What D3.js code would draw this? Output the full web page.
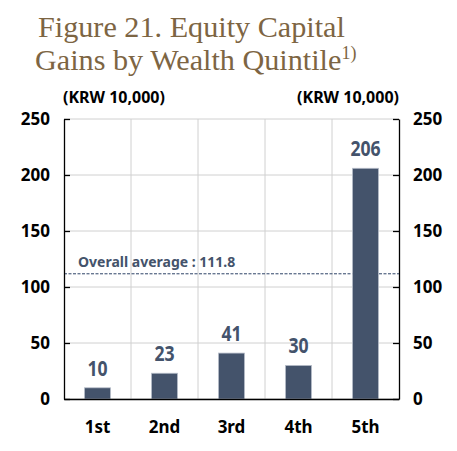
<!DOCTYPE html>
<html>
<head>
<meta charset="utf-8">
<script src="https://cdn.jsdelivr.net/npm/d3@7"></script>
<style>
  body { margin: 0; background: #fff; }
  text { font-family: "Noto Sans", sans-serif; }
</style>
</head>
<body>
<div id="chart"></div>
<script>
var quintiles = ['1st', '2nd', '3rd', '4th', '5th'],
    gains = [10, 23, 41, 30, 206],
    yTicks = [0, 50, 100, 150, 200, 250],
    average = 111.8;

var width = 457, height = 451;
var margin = {top: 119, right: 58, bottom: 52, left: 64};

var svg = d3.select('#chart')
    .append('svg')
        .attr('width', width)
        .attr('height', height);

// title
var title = svg.append('text')
    .attr('fill', '#7d6543')
    .style('font-family', '"Liberation Serif", "Times New Roman", serif')
    .style('font-size', '30.2px');
title.append('tspan').attr('x', 38).attr('y', 37).text('Figure 21. Equity Capital');
title.append('tspan').attr('x', 35).attr('y', 70).text('Gains by Wealth Quintile');
title.append('tspan').attr('dy', -11).style('font-size', '18px').text('1)');

var x = d3.scaleBand()
    .domain(quintiles)
    .range([margin.left, width - margin.right])
    .paddingInner(0.61)
    .paddingOuter(0.305);

var y = d3.scaleLinear()
    .domain([0, 250])
    .range([height - margin.bottom, margin.top]);

var g = svg.append('g');

// horizontal grid
g.selectAll('.hgrid')
    .data(yTicks)
    .enter().append('line')
        .attr('x1', margin.left).attr('x2', width - margin.right)
        .attr('y1', d => y(d)).attr('y2', d => y(d))
        .attr('stroke', '#d0d0d0').attr('stroke-width', 1);

// vertical grid at band boundaries
var step = x.step();
g.selectAll('.vgrid')
    .data(quintiles.slice(1))
    .enter().append('line')
        .attr('x1', d => x(d) - step * x.paddingInner() / 2)
        .attr('x2', d => x(d) - step * x.paddingInner() / 2)
        .attr('y1', y(250)).attr('y2', y(0))
        .attr('stroke', '#d0d0d0').attr('stroke-width', 1);

// average line
g.append('line')
    .attr('x1', margin.left).attr('x2', width - margin.right)
    .attr('y1', y(average)).attr('y2', y(average))
    .attr('stroke', '#2f4468').attr('stroke-width', 1)
    .attr('stroke-dasharray', '3,1.5');

g.append('text')
    .attr('x', 78).attr('y', y(average) - 7)
    .attr('fill', '#44536b')
    .style('font-size', '14px').style('font-weight', 'bold')
    .text('Overall average : ' + average);

// bars
g.selectAll('.bar')
    .data(gains)
    .enter().append('rect')
        .attr('x', (d, i) => x(quintiles[i]))
        .attr('y', d => y(d))
        .attr('width', x.bandwidth())
        .attr('height', d => y(0) - y(d))
        .attr('fill', '#44536b')
        .attr('stroke', '#b8bfca').attr('stroke-width', 0.8);

// value labels, narrowed to look like the condensed original face
g.selectAll('.val')
    .data(gains)
    .enter().append('text')
        .attr('transform', (d, i) => 'translate(' + (x(quintiles[i]) + x.bandwidth() / 2) + ',' + (y(d) - 12) + ') scale(0.8,1)')
        .attr('text-anchor', 'middle')
        .attr('fill', '#44536b')
        .style('font-size', '22px').style('font-weight', 'bold')
        .text(d => d);

// axes
var leftAxis = d3.axisLeft(y).tickValues(yTicks).tickSizeInner(-6).tickSizeOuter(0).tickPadding(14);
var rightAxis = d3.axisRight(y).tickValues(yTicks).tickSizeInner(-6).tickSizeOuter(0).tickPadding(14);
var bottomAxis = d3.axisBottom(x).tickSize(0).tickPadding(22);

function styleAxis(sel) {
    sel.select('.domain').attr('stroke', '#000').attr('stroke-width', 1.3);
    sel.selectAll('.tick line').attr('stroke', '#000').attr('stroke-width', 1.3);
    sel.selectAll('.tick text')
        .attr('fill', '#000')
        .style('font-family', '"Noto Sans", sans-serif')
        .style('font-size', '17px').style('font-weight', 'bold');
}

svg.append('g')
    .attr('transform', 'translate(' + margin.left + ',0)')
    .call(leftAxis).call(styleAxis);

svg.append('g')
    .attr('transform', 'translate(' + (width - margin.right) + ',0)')
    .call(rightAxis).call(styleAxis);

svg.append('g')
    .attr('transform', 'translate(0,' + y(0) + ')')
    .call(bottomAxis).call(styleAxis)
    .select('.domain').attr('stroke-width', 1.5);

// unit labels
svg.append('text')
    .attr('x', 63).attr('y', 103)
    .style('font-size', '16px').style('font-weight', 'bold')
    .text('(KRW 10,000)');
svg.append('text')
    .attr('x', 399).attr('y', 103)
    .attr('text-anchor', 'end')
    .style('font-size', '16px').style('font-weight', 'bold')
    .text('(KRW 10,000)');
</script>
</body>
</html>
